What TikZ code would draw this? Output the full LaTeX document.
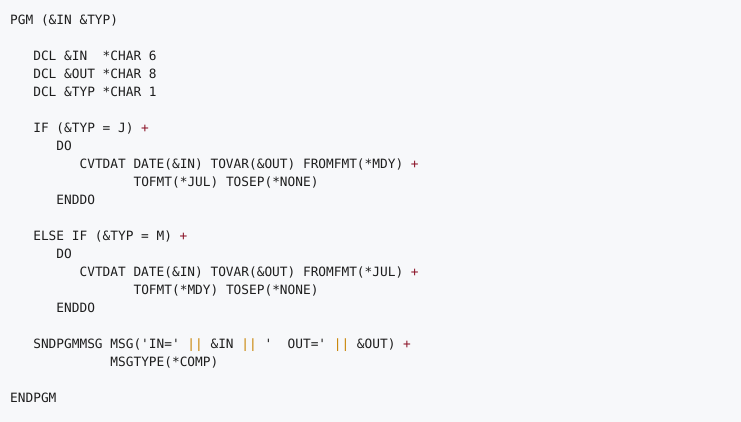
\documentclass[tikz,border=0pt]{standalone}
\usepackage{fontspec}
\setmonofont{DejaVu Sans Mono}
\definecolor{bg}{RGB}{247,248,250}
\definecolor{txt}{RGB}{30,30,30}
\definecolor{plus}{RGB}{140,20,40}
\definecolor{pipe}{RGB}{200,130,0}
\newcommand{\pl}{\textcolor{plus}{+}}
\newcommand{\pp}{\textcolor{pipe}{||}}
\begin{document}
\begin{tikzpicture}[x=1pt,y=-1pt,
  ln/.style={anchor=base west,inner sep=0pt,text=txt,font=\ttfamily\fontsize{12.8}{18}\selectfont}]
\fill[bg] (0,0) rectangle (741,422);
\useasboundingbox (0,0) rectangle (741,422);
\def\cw{7.71}
\foreach \i/\c/\t [count=\k] in {
 1/0/{PGM (\&IN \&TYP)},
 3/3/{DCL \&IN~~*CHAR 6},
 4/3/{DCL \&OUT *CHAR 8},
 5/3/{DCL \&TYP *CHAR 1},
 7/3/{IF (\&TYP = J) \pl},
 8/6/{DO},
 9/9/{CVTDAT DATE(\&IN) TOVAR(\&OUT) FROMFMT(*MDY) \pl},
 10/16/{TOFMT(*JUL) TOSEP(*NONE)},
 11/6/{ENDDO},
 13/3/{ELSE IF (\&TYP = M) \pl},
 14/6/{DO},
 15/9/{CVTDAT DATE(\&IN) TOVAR(\&OUT) FROMFMT(*JUL) \pl},
 16/16/{TOFMT(*MDY) TOSEP(*NONE)},
 17/6/{ENDDO},
 19/3/{SNDPGMMSG MSG('IN=' \pp{} \&IN \pp{} '~~OUT=' \pp{} \&OUT) \pl},
 20/13/{MSGTYPE(*COMP)},
 22/0/{ENDPGM}}
 \node[ln] (l\k) at ({10+\c*\cw},{24.5+18*(\i-1)}) {\t};
\end{tikzpicture}
\end{document}
